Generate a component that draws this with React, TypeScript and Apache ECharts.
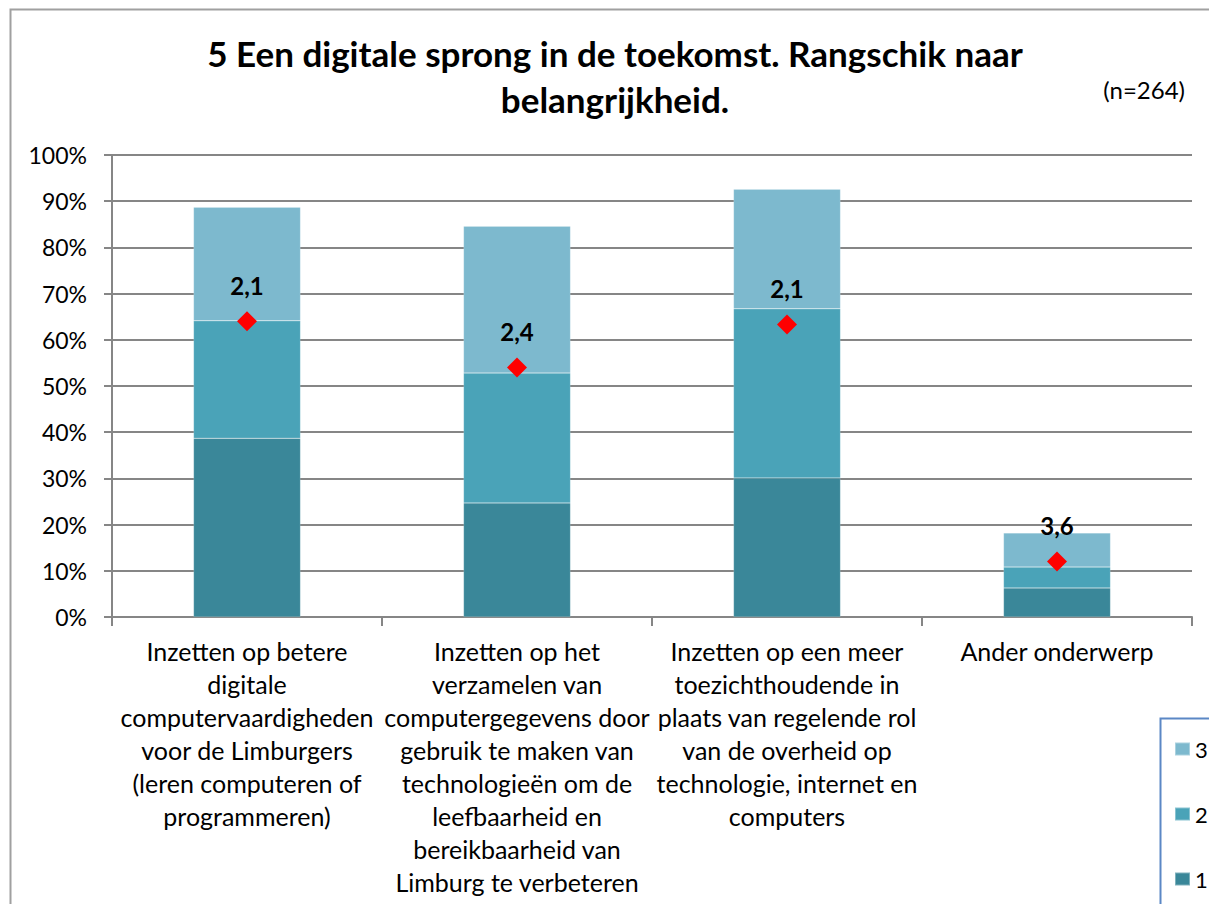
import React, { useEffect, useRef } from "react";
import * as echarts from "echarts";

const categories = [
  "Inzetten op betere\ndigitale\ncomputervaardigheden\nvoor de Limburgers\n(leren computeren of\nprogrammeren)",
  "Inzetten op het\nverzamelen van\ncomputergegevens door\ngebruik te maken van\ntechnologieën om de\nleefbaarheid en\nbereikbaarheid van\nLimburg te verbeteren",
  "Inzetten op een meer\ntoezichthoudende in\nplaats van regelende rol\nvan de overheid op\ntechnologie, internet en\ncomputers",
  "Ander onderwerp",
];
const rank1 = [38.7, 24.7, 30.1, 6.3];
const rank2 = [25.4, 28.1, 36.6, 4.5];
const rank3 = [24.6, 31.8, 25.9, 7.4];
const averages = [2.08, 2.38, 2.1, 3.64];
const yTicks = [0, 10, 20, 30, 40, 50, 60, 70, 80, 90, 100];
const titleText = "5 Een digitale sprong in de toekomst. Rangschik naar\nbelangrijkheid.";
const nText = "(n=264)";

const FONT = "Lato, 'Open Sans', sans-serif";
const C1 = "#3a8799";
const C2 = "#4aa3b8";
const C3 = "#7db9ce";

export default function App() {
  const ref = useRef<HTMLDivElement>(null);
  useEffect(() => {
    document.body.style.margin = "0";
    const chart = echarts.init(ref.current!, undefined, { renderer: "svg" });
    const barBase = {
      type: "bar",
      stack: "total",
      barWidth: 107,
      yAxisIndex: 0,
      itemStyle: { borderColor: "rgba(255,255,255,0.35)", borderWidth: 0.5 },
    };
    chart.setOption({
      animation: false,
      backgroundColor: "#ffffff",
      textStyle: { fontFamily: FONT },
      grid: { left: 112, right: 17, top: 155, bottom: 287, containLabel: false },
      legend: {
        orient: "vertical",
        left: 1174,
        top: 738,
        padding: 0,
        itemGap: 43,
        itemWidth: 15,
        itemHeight: 13,
        data: ["3", "2", "1"],
        textStyle: { fontSize: 22, color: "#000", fontFamily: FONT },
        icon: "rect",
      },
      xAxis: {
        type: "category",
        data: categories,
        axisLine: { lineStyle: { color: "#868686", width: 2 } },
        axisTick: { show: true, length: 9, lineStyle: { color: "#868686", width: 2 } },
        axisLabel: {
          interval: 0,
          fontSize: 25,
          lineHeight: 33,
          color: "#000",
          margin: 17,
          fontFamily: FONT,
        },
      },
      yAxis: [
        {
          type: "value",
          min: 0,
          max: 100,
          interval: 10,
          axisLine: { show: true, lineStyle: { color: "#868686", width: 2 } },
          axisTick: { show: true, length: 8, lineStyle: { color: "#868686", width: 2 } },
          splitLine: { lineStyle: { color: "#868686", width: 2 } },
          axisLabel: {
            fontSize: 23,
            color: "#000",
            margin: 25,
            fontFamily: FONT,
            formatter: (v: number) => (yTicks.includes(v) ? v + "%" : ""),
          },
        },
        {
          type: "value",
          min: 1,
          max: 4,
          inverse: true,
          show: false,
          splitLine: { show: false },
        },
      ],
      series: [
        { ...barBase, name: "1", data: rank1, itemStyle: { ...barBase.itemStyle, color: C1 } },
        { ...barBase, name: "2", data: rank2, itemStyle: { ...barBase.itemStyle, color: C2 } },
        { ...barBase, name: "3", data: rank3, itemStyle: { ...barBase.itemStyle, color: C3 } },
        {
          type: "line",
          name: "gemiddelde",
          yAxisIndex: 1,
          data: averages,
          symbol: "diamond",
          symbolSize: 20,
          itemStyle: { color: "#ff0000" },
          lineStyle: { opacity: 0, width: 0 },
          label: {
            show: true,
            position: "top",
            distance: 14,
            fontSize: 24,
            fontWeight: "bold",
            color: "#000",
            fontFamily: FONT,
            formatter: (p: any) => Number(p.value).toFixed(1).replace(".", ","),
          },
        },
      ],
      graphic: [
        {
          type: "rect",
          shape: { x: 10.5, y: 9.5, width: 1300, height: 1000 },
          style: { fill: "none", stroke: "#a0a0a0", lineWidth: 2 },
          silent: true,
          z: -1,
        },
        {
          type: "text",
          x: 615,
          y: 30,
          style: {
            text: titleText,
            font: `bold 35px ${FONT}`,
            fill: "#000",
            textAlign: "center",
            lineHeight: 46,
          },
        },
        {
          type: "text",
          x: 1185,
          y: 77,
          style: { text: nText, font: `24px ${FONT}`, fill: "#000", textAlign: "right" },
        },
        {
          type: "rect",
          shape: { x: 1160.5, y: 718.5, width: 200, height: 300 },
          style: { fill: "none", stroke: "#5b87c5", lineWidth: 2 },
          silent: true,
        },
      ],
    });
    return () => chart.dispose();
  }, []);
  return (
    <div
      ref={ref}
      style={{ position: "absolute", left: 0, top: 0, width: 1209, height: 904 }}
    />
  );
}
